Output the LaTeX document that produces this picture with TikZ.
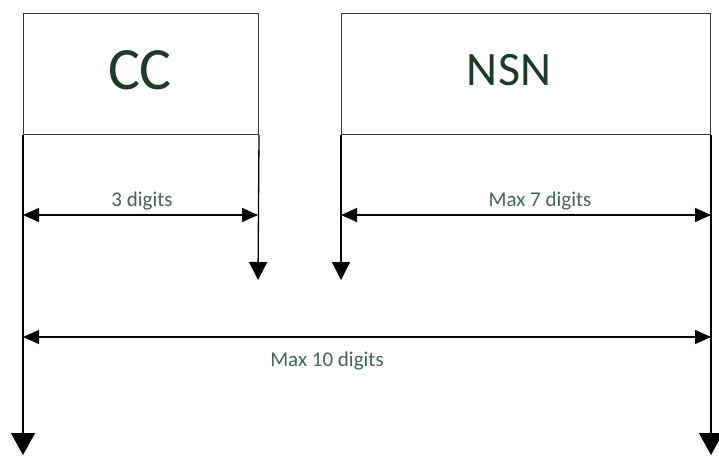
\documentclass[tikz,border=0pt]{standalone}
\usepackage{fontspec}
\setmainfont{Carlito}
\usetikzlibrary{arrows.meta}

\definecolor{titlegreen}{HTML}{1E3A2A}
\definecolor{digitgreen}{HTML}{456555}

\tikzset{
  field/.style={draw=black!80, line width=1pt, inner sep=0pt, anchor=north west},
  fieldname/.style={text=titlegreen},
  lead/.style={line width=1.3pt, -{Triangle[width=18pt,length=18pt]}},
  longlead/.style={line width=1.3pt, -{Triangle[width=24pt,length=22pt]}},
  span/.style={line width=1.3pt, {Triangle[width=14pt,length=16pt]}-{Triangle[width=14pt,length=16pt]}},
  digitlabel/.style={text=digitgreen, font=\fontsize{21}{24}\selectfont}
}

\begin{document}
\begin{tikzpicture}[x=1pt, y=-1pt]
	\useasboundingbox (0,0) rectangle (719,455);
	
	% the two fields
	\node[field, minimum width=235pt, minimum height=121pt] (cc) at (23,13) {};
	\node[field, minimum width=369pt, minimum height=121pt] (nsn) at (341,13) {};
	\node[fieldname, font=\fontsize{60}{64}\selectfont] (cctext) at (140,70) {CC};
	\node[fieldname, font=\fontsize{48}{52}\selectfont] (nsntext) at (509,70) {NSN};
	
	% ends of the leads
	\coordinate (ccend) at (258,280);
	\coordinate (nsnend) at (341,280);
	\coordinate (leftend) at (23,455);
	\coordinate (rightend) at (711,455);
	
	\draw[lead] (cc.south east) -- (ccend);
	\draw[lead] (nsn.south west) -- (nsnend);
	\draw[longlead] (cc.south west) -- (leftend);
	\draw[longlead] (nsn.south east) -- (rightend);
	
	% spans
	\coordinate (ccl) at (23,215);
	\coordinate (ccr) at (258,215);
	\coordinate (nsnl) at (341,215);
	\coordinate (nsnr) at (711,215);
	\coordinate (alll) at (23,337);
	\coordinate (allr) at (711,337);
	
	\draw[span] (ccl) -- (ccr);
	\draw[span] (nsnl) -- (nsnr);
	\draw[span] (alll) -- (allr);
	
	\node[digitlabel] (cclabel) at (142,201) {3 digits};
	\node[digitlabel] (nsnlabel) at (540,201) {Max 7 digits};
	\node[digitlabel] (alllabel) at (327,361) {Max 10 digits};
\end{tikzpicture}
\end{document}
